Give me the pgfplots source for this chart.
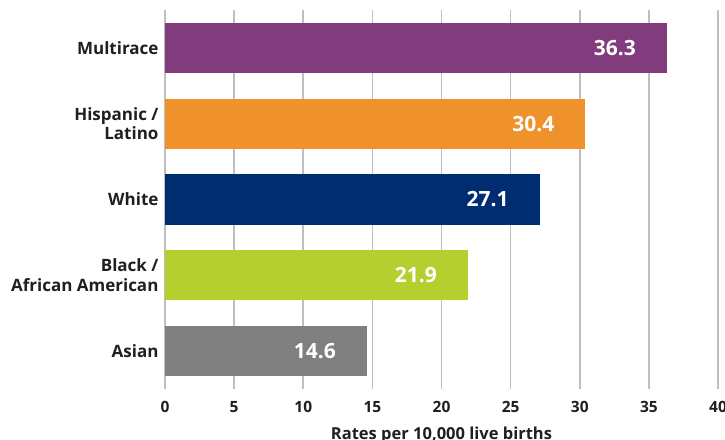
\documentclass[border=0pt]{standalone}
\usepackage{fontspec}
\setmainfont{Open Sans}
\usepackage{pgfplots}
\pgfplotsset{compat=1.18}
\definecolor{cpurple}{HTML}{823B7C}
\definecolor{corange}{HTML}{F0922B}
\definecolor{cnavy}{HTML}{002D72}
\definecolor{cgreen}{HTML}{B5CF2F}
\definecolor{cgray}{HTML}{808080}
\begin{document}
\begin{tikzpicture}
\useasboundingbox (-165pt,-50pt) rectangle (560pt,389pt);
\begin{axis}[
  at={(0,0)}, anchor=south west,
  scale only axis, width=553pt, height=379pt,
  xmin=0, xmax=40, ymin=-0.5, ymax=4.5,
  xbar, bar width=50pt, bar shift=0pt,
  xtick={0,5,...,40}, ytick={0,1,2,3,4},
  yticklabels={Asian, {Black /\\African American}, White, {Hispanic /\\Latino}, Multirace},
  yticklabel style={align=right, font=\fontsize{17}{19.5}\selectfont\bfseries, text=black!88, xshift=-3pt},
  xticklabel style={font=\fontsize{15.5}{18}\selectfont\bfseries, text=black!88, yshift=-9pt},
  /pgf/number format/assume math mode=true,
  xmajorgrids, grid style={black!25, line width=1.5pt},
  axis line style={draw=none}, major tick length=0pt,
  xlabel={Rates per 10,000 live births},
  xlabel style={font=\fontsize{16.5}{19}\selectfont\bfseries, text=black!88, yshift=-7pt},
  nodes near coords,
  every node near coord/.append style={anchor=center, xshift=-52pt, text=white, font=\fontsize{21}{24}\selectfont\bfseries},
]
\addplot[draw=none, fill=cgray] coordinates {(14.6,0)};
\addplot[draw=none, fill=cgreen] coordinates {(21.9,1)};
\addplot[draw=none, fill=cnavy] coordinates {(27.1,2)};
\addplot[draw=none, fill=corange] coordinates {(30.4,3)};
\addplot[draw=none, fill=cpurple] coordinates {(36.3,4)};
\end{axis}
\end{tikzpicture}
\end{document}
